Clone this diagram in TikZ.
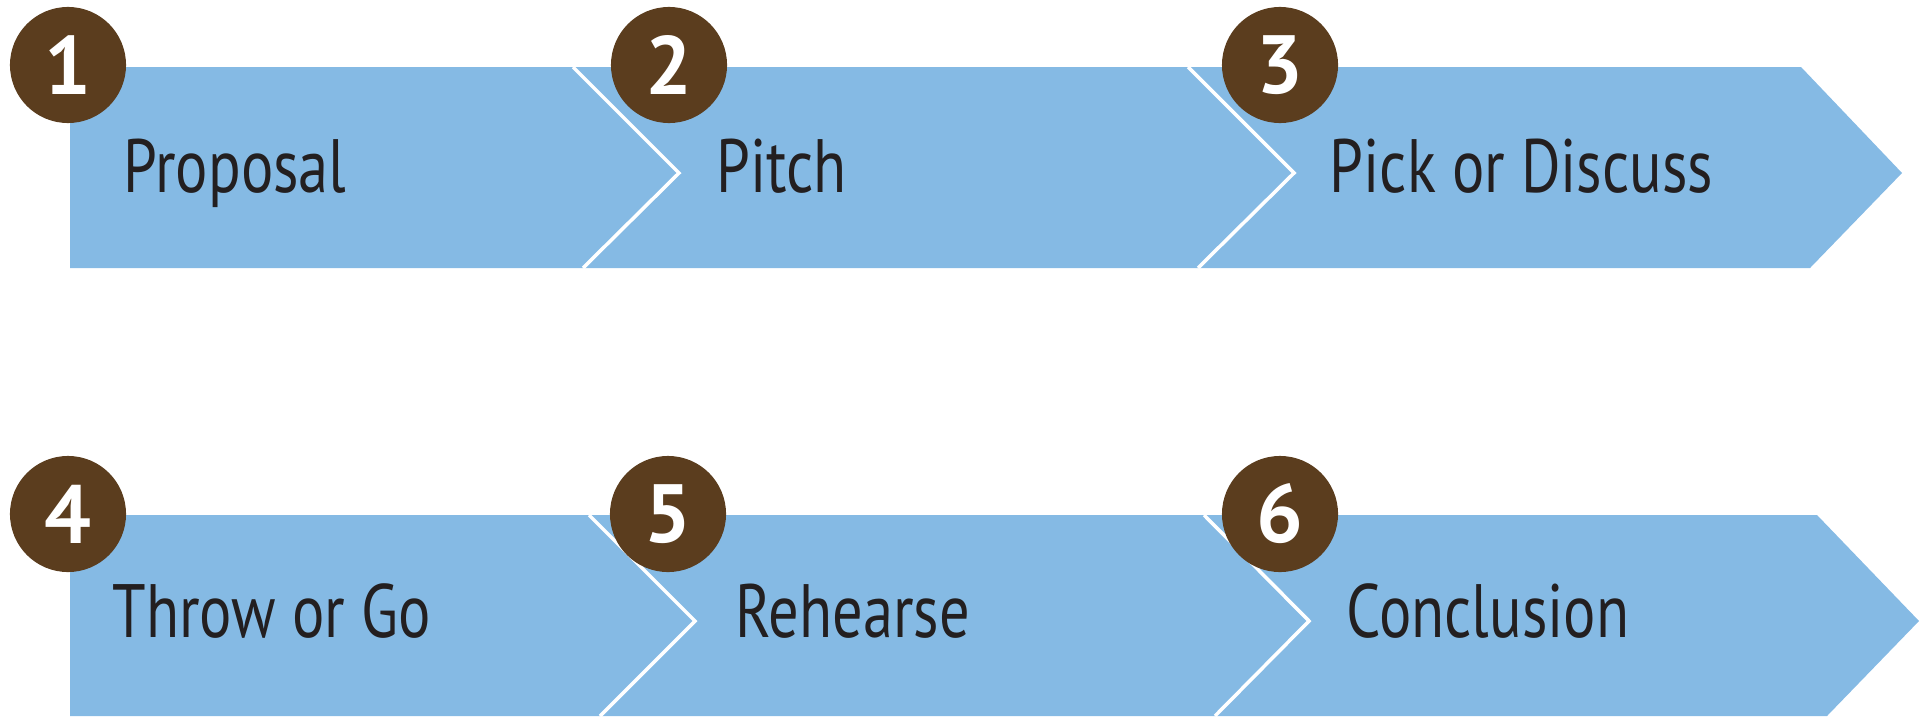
\documentclass[tikz,border=0pt]{standalone}
\usepackage{fontspec}
\setmainfont{PT Sans}[FakeStretch=0.8]
\newfontfamily\numfont{PT Sans}
\definecolor{bandblue}{RGB}{133,186,228}
\definecolor{numbrown}{RGB}{91,61,30}
\definecolor{labelink}{RGB}{35,31,32}

\begin{document}
\begin{tikzpicture}[x=0.01cm, y=-0.01cm,
    band/.style={fill=bandblue},
    sep/.style={draw=white, line width=1pt},
    num/.style={circle, fill=numbrown, text=white, minimum size=1.16cm, inner sep=0pt, font=\numfont\fontsize{23.5}{24}\selectfont\bfseries},
    lbl/.style={anchor=base west, inner sep=0pt, text=labelink, font=\fontsize{21.5}{22}\selectfont}]
    \useasboundingbox (0,0) rectangle (1921,718);

    % Draw chevrons
    \fill[band] (70,67) -- (573,67) -- (679,173) -- (583,268) -- (70,268) -- cycle;
    \fill[band] (573,67) -- (1188,67) -- (1294,173) -- (1198,268) -- (583,268) -- (679,173) -- cycle;
    \fill[band] (1188,67) -- (1801,67) -- (1902,173) -- (1810,268) -- (1198,268) -- (1294,173) -- cycle;
    \fill[band] (70,515) -- (589,515) -- (695,621) -- (600,716) -- (70,716) -- cycle;
    \fill[band] (589,515) -- (1204,515) -- (1309,621) -- (1215,716) -- (600,716) -- (695,621) -- cycle;
    \fill[band] (1204,515) -- (1817,515) -- (1919,621) -- (1827,716) -- (1215,716) -- (1309,621) -- cycle;

    % Draw separators
    \draw[sep] (573,67) -- (679,173) -- (583,268);
    \draw[sep] (1188,67) -- (1294,173) -- (1198,268);
    \draw[sep] (589,515) -- (695,621) -- (600,716);
    \draw[sep] (1204,515) -- (1309,621) -- (1215,716);

    % Define labels
    \node[lbl] (t1) at (123,192) {Proposal};
    \node[lbl] (t2) at (716,192) {Pitch};
    \node[lbl] (t3) at (1329,192) {Pick or Discuss};
    \node[lbl] (t4) at (112,637) {Throw or Go};
    \node[lbl] (t5) at (735,637) {Rehearse};
    \node[lbl] (t6) at (1346,637) {Conclusion};

    % Define step numbers
    \node[num] (n1) at (68,65) {1};
    \node[num] (n2) at (669,65) {2};
    \node[num] (n3) at (1280,65) {3};
    \node[num] (n4) at (68,514) {4};
    \node[num] (n5) at (668,514) {5};
    \node[num] (n6) at (1280,514) {6};
\end{tikzpicture}
\end{document}
